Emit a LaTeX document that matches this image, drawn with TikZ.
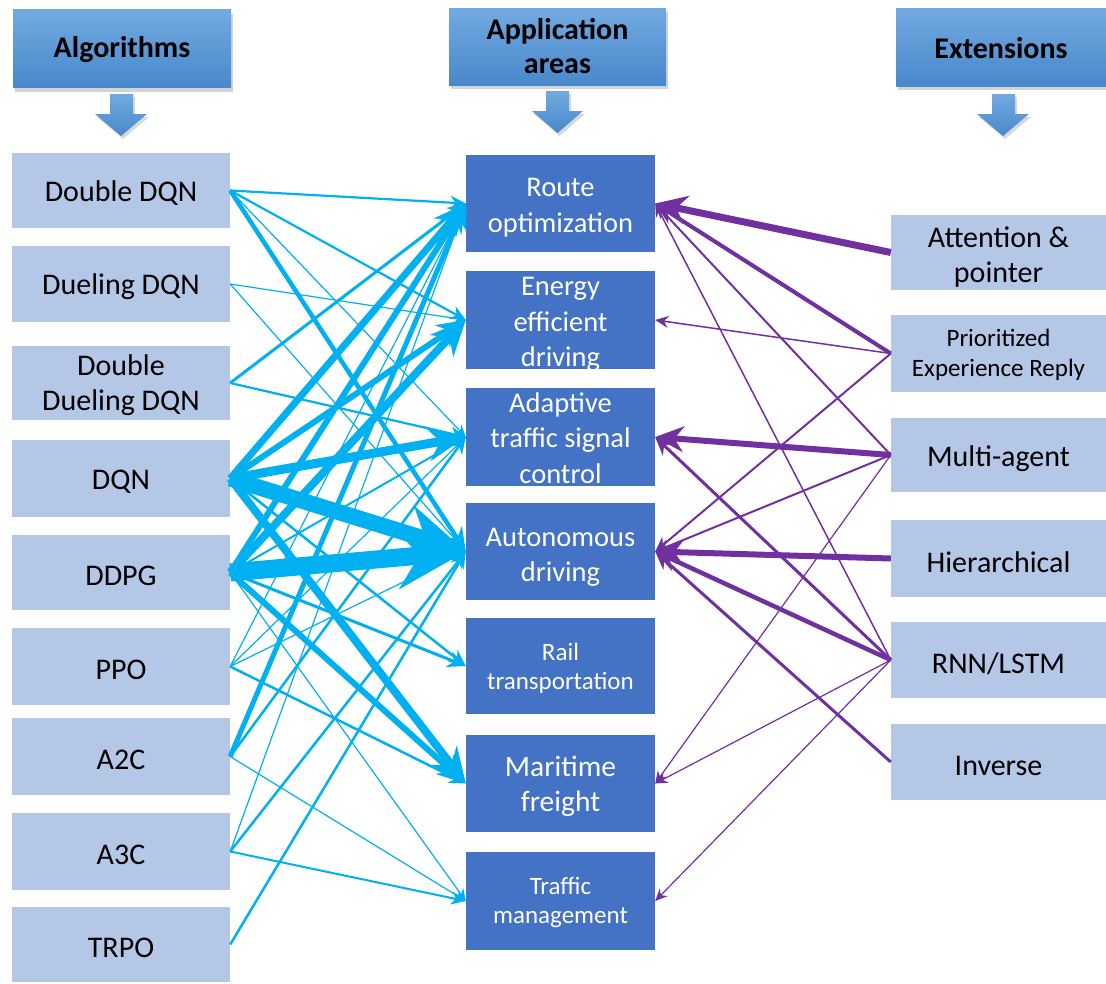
\documentclass[tikz,border=0pt]{standalone}
\usepackage{fontspec}
\setmainfont{Carlito}
\usetikzlibrary{arrows.meta,shadows}
\definecolor{lightbox}{HTML}{B4C7E7}
\definecolor{midbox}{HTML}{4472C4}
\definecolor{cyanline}{HTML}{00B0F0}
\definecolor{purpline}{HTML}{7030A0}
\definecolor{htop}{HTML}{72AAE0}
\definecolor{hbot}{HTML}{4888CB}
\newcommand{\lowt}[2]{\raisebox{0pt}[\dimexpr\height+#1\relax]{\begin{tabular}{@{}c@{}}#2\end{tabular}}}
\tikzset{
  algbox/.style={fill=lightbox, minimum width=218pt, minimum height=76pt, inner sep=0pt, text=black, font=\fontsize{30}{35}\selectfont},
  algone/.style={algbox, text height=26.5pt},
  appbox/.style={fill=midbox, minimum width=189pt, minimum height=97pt, inner sep=0pt, text=white, font=\fontsize{28.5}{35.5}\selectfont},
  extbox/.style={fill=lightbox, minimum width=215pt, minimum height=76pt, inner sep=0pt, text=black, font=\fontsize{30}{35}\selectfont},
  extone/.style={extbox, text height=28pt},
  hdrbox/.style={top color=htop, bottom color=hbot, minimum height=78pt, inner sep=0pt, align=center, text=black, font=\bfseries\fontsize{30}{34}\selectfont, drop shadow={shadow xshift=2pt, shadow yshift=-4pt, opacity=0.35}},
  downarr/.style={top color=htop, bottom color=hbot, drop shadow={shadow xshift=2pt, shadow yshift=-3pt, opacity=0.3}},
  cy/.style={draw=cyanline, line width=#1pt, -{Stealth[length=8pt 3.4, width'=0pt 0.9]}},
  pu/.style={draw=purpline, line width=#1pt, -{Stealth[length=8pt 3.4, width'=0pt 0.9]}}
}
\begin{document}
\begin{tikzpicture}[x=1pt,y=-1pt]
\useasboundingbox (0,0) rectangle (1106,983);

% headers
\node[hdrbox, minimum width=218pt, text height=23.5pt] (halg) at (122,48.5) {Algorithms};
\node[hdrbox, minimum width=217pt, minimum height=77pt] (happ) at (557.5,46.5) {Application\\areas};
\node[hdrbox, minimum width=210pt, text height=23.5pt] (hext) at (1001,47) {Extensions};

% down arrows
\path[downarr] (110,94) -- (133,94) -- (133,114) -- (147,114) -- (121,136) -- (95,114) -- (110,114) -- cycle;
\path[downarr] (546,91) -- (569,91) -- (569,111) -- (583,111) -- (557.5,133) -- (532,111) -- (546,111) -- cycle;
\path[downarr] (992,94) -- (1015,94) -- (1015,114) -- (1029,114) -- (1003,136) -- (977,114) -- (992,114) -- cycle;

% algorithms
\node[algone, minimum height=75pt] (ddqn) at (121,190.5) {Double DQN};
\node[algone] (duel) at (121,284) {Dueling DQN};
\node[algbox, minimum height=74pt, inner ysep=-6pt] (dd) at (121,383) {\lowt{6pt}{Double\\Dueling DQN}};
\node[algone, minimum height=77pt] (dqn) at (121,478.5) {DQN};
\node[algone, minimum height=75pt] (ddpg) at (121,572.5) {DDPG};
\node[algone, minimum height=77pt] (ppo) at (121,666.5) {PPO};
\node[algone, minimum height=77pt] (atwoc) at (121,756.5) {A2C};
\node[algone, minimum height=77pt] (athreec) at (121,851.5) {A3C};
\node[algone, minimum height=75pt] (trpo) at (121,944.5) {TRPO};

% application areas
\node[appbox] (route) at (560.5,203.5) {\lowt{8pt}{Route\\optimization}};
\node[appbox, minimum height=98pt, inner ysep=-14pt] (energy) at (560.5,320) {\lowt{8pt}{Energy\\efficient\\driving}};
\node[appbox, minimum height=98pt, inner ysep=-14pt] (adapt) at (560.5,437) {\lowt{7pt}{Adaptive\\traffic signal\\control}};
\node[appbox] (auto) at (560.5,551.5) {\lowt{11pt}{Autonomous\\driving}};
\node[appbox, minimum height=96pt, font=\fontsize{25}{29}\selectfont] (rail) at (560.5,666) {\lowt{6pt}{Rail\\transportation}};
\node[appbox, font=\fontsize{29.5}{35}\selectfont] (mari) at (560.5,783.5) {\lowt{7pt}{Maritime\\freight}};
\node[appbox, minimum height=98pt, font=\fontsize{25}{29}\selectfont] (traf) at (560.5,901) {\lowt{5pt}{Traffic\\management}};

% extensions
\node[extbox, minimum height=75pt, inner ysep=-8pt] (attn) at (998.5,252.5) {\lowt{10pt}{Attention \&\\pointer}};
\node[extbox, minimum height=77pt, font=\fontsize{25}{30}\selectfont] (prio) at (998.5,353.5) {\lowt{4pt}{Prioritized\\Experience Reply}};
\node[extone, minimum height=74pt] (multi) at (998.5,455) {Multi-agent};
\node[extone, minimum height=77pt] (hier) at (998.5,558.5) {Hierarchical};
\node[extone] (rnn) at (998.5,660) {RNN/LSTM};
\node[extone] (inv) at (998.5,762) {Inverse};

% cyan connectors
\draw[cy=2.2] (ddqn.east) -- (route.west);
\draw[cy=2.2] (ddqn.east) -- (energy.west);
\draw[cy=1.2] (ddqn.east) -- (adapt.west);
\draw[cy=4.5] (ddqn.east) -- (auto.west);
\draw[cy=1.2] (duel.east) -- (energy.west);
\draw[cy=1.2] (duel.east) -- (auto.west);
\draw[cy=3] (dd.east) -- (route.west);
\draw[cy=2.2] (dd.east) -- (adapt.west);
\draw[cy=7] (dqn.east) -- (route.west);
\draw[cy=6] (dqn.east) -- (energy.west);
\draw[cy=9] (dqn.east) -- (adapt.west);
\draw[cy=16] (dqn.east) -- (auto.west);
\draw[cy=2.5] (dqn.east) -- (rail.west);
\draw[cy=8] (dqn.east) -- (mari.west);
\draw[cy=6] (ddpg.east) -- (route.west);
\draw[cy=8] (ddpg.east) -- (energy.west);
\draw[cy=2] (ddpg.east) -- (adapt.west);
\draw[cy=18] (ddpg.east) -- (auto.west);
\draw[cy=3] (ddpg.east) -- (rail.west);
\draw[cy=6] (ddpg.east) -- (mari.west);
\draw[cy=1.2] (ddpg.east) -- (traf.west);
\draw[cy=1.2] (ppo.east) -- (route.west);
\draw[cy=1.2] (ppo.east) -- (adapt.west);
\draw[cy=1.2] (ppo.east) -- (auto.west);
\draw[cy=2.5] (ppo.east) -- (mari.west);
\draw[cy=5] (atwoc.east) -- (route.west);
\draw[cy=2.5] (atwoc.east) -- (adapt.west);
\draw[cy=1.2] (atwoc.east) -- (traf.west);
\draw[cy=1.2] (athreec.east) -- (route.west);
\draw[cy=2.5] (athreec.east) -- (auto.west);
\draw[cy=2] (athreec.east) -- (traf.west);
\draw[cy=2.5] (trpo.east) -- (auto.west);

% purple connectors
\draw[pu=7] (attn.west) -- (route.east);
\draw[pu=4] (prio.west) -- (route.east);
\draw[pu=1.5] (prio.west) -- (energy.east);
\draw[pu=2] (prio.west) -- (auto.east);
\draw[pu=2] (multi.west) -- (route.east);
\draw[pu=6] (multi.west) -- (adapt.east);
\draw[pu=2] (multi.west) -- (auto.east);
\draw[pu=1.2] (multi.west) -- (mari.east);
\draw[pu=6] (hier.west) -- (auto.east);
\draw[pu=1.5] (rnn.west) -- (route.east);
\draw[pu=3] (rnn.west) -- (adapt.east);
\draw[pu=4.5] (rnn.west) -- (auto.east);
\draw[pu=1.2] (rnn.west) -- (mari.east);
\draw[pu=1.2] (rnn.west) -- (traf.east);
\draw[pu=3] (inv.west) -- (auto.east);
\end{tikzpicture}
\end{document}
